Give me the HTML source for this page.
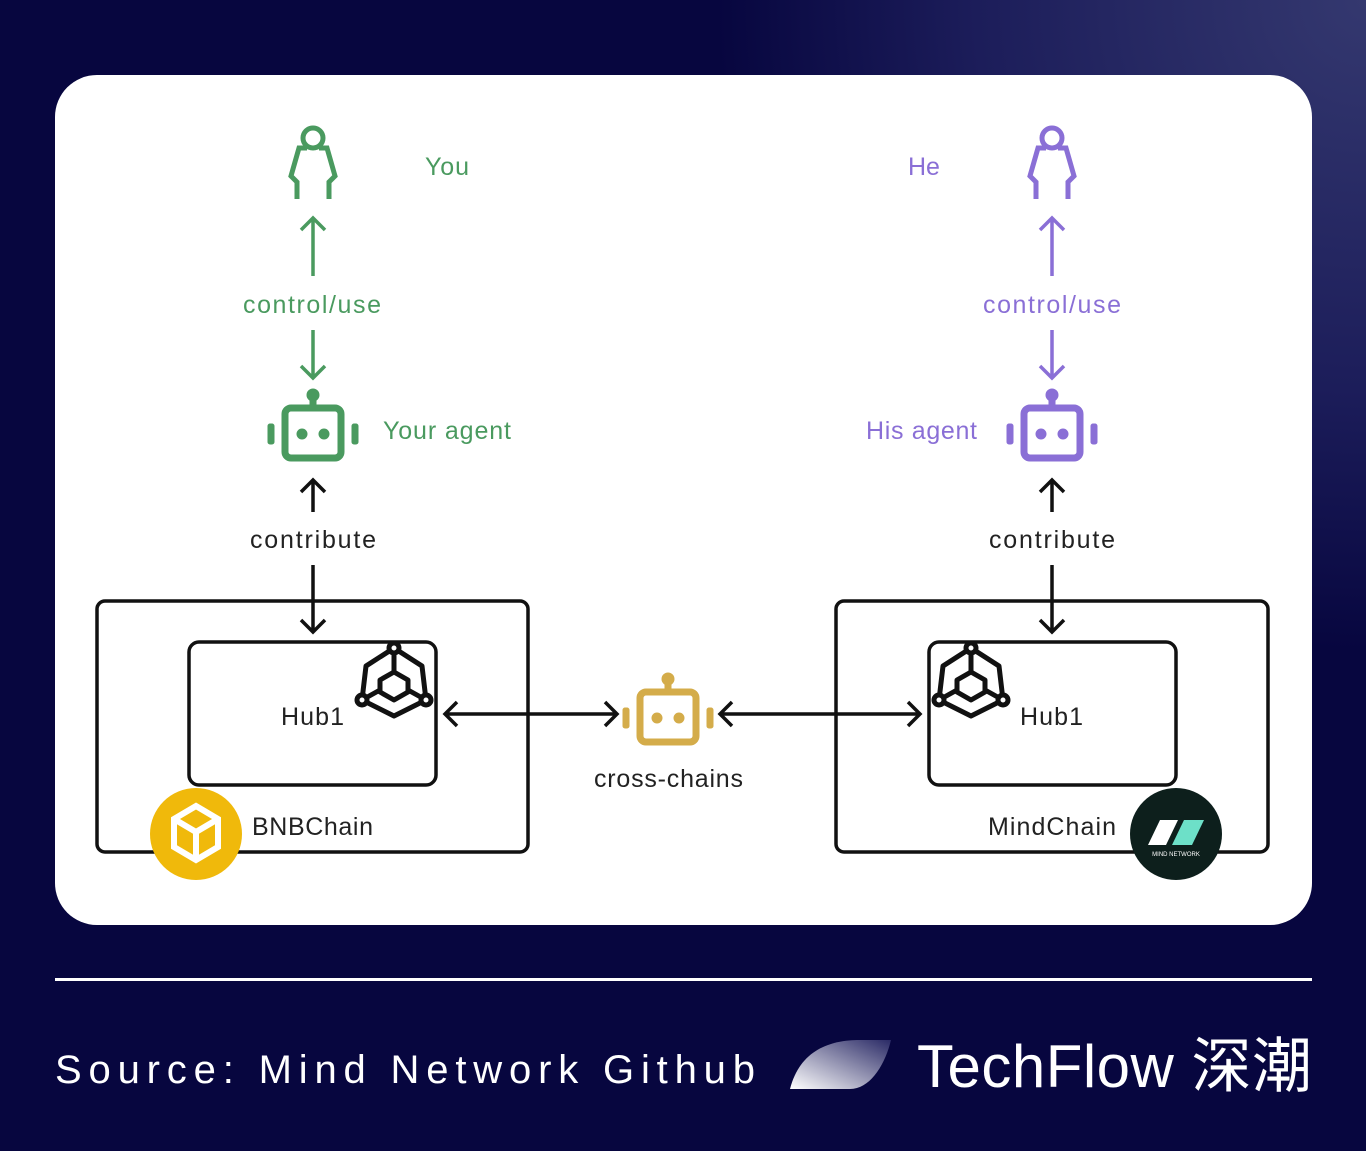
<!DOCTYPE html>
<html><head><meta charset="utf-8"><style>
html,body{margin:0;padding:0;width:1366px;height:1151px;overflow:hidden;background:#07063f}
svg{display:block}
text{font-family:"Liberation Sans","Noto Sans CJK SC",sans-serif}
</style></head><body>
<svg width="1366" height="1151" viewBox="0 0 1366 1151" xmlns="http://www.w3.org/2000/svg">
<defs>
<radialGradient id="bg" cx="1366" cy="0" r="650" gradientUnits="userSpaceOnUse">
<stop offset="0" stop-color="#34386f"/><stop offset="0.6" stop-color="#1c1d5a"/><stop offset="1" stop-color="#07063f"/>
</radialGradient>
<linearGradient id="leaf" x1="0" y1="1" x2="1" y2="0">
<stop offset="0" stop-color="#ffffff"/><stop offset="1" stop-color="#2a2a66"/>
</linearGradient>
<g id="person" fill="none" stroke-width="5" stroke-linejoin="miter">
<circle cx="0" cy="-26" r="10"/>
<path d="M-6,-16 L-14,-16 L-22,12 L-16,18 L-16,35 M6,-16 L14,-16 L22,12 L16,18 L16,35"/>
</g>
<g id="robot">
<circle cx="0" cy="-37" r="6"/>
<rect x="-3" y="-36" width="6" height="12"/>
<rect x="-28" y="-24" width="56" height="50" rx="6" fill="none" stroke-width="7"/>
<circle cx="-11" cy="2" r="5"/><circle cx="11" cy="2" r="5"/>
<rect x="-45" y="-8" width="6" height="20" rx="2"/><rect x="39" y="-8" width="6" height="20" rx="2"/>
</g>
<g id="hub" fill="none" stroke="#111" stroke-width="5" stroke-linejoin="round">
<path d="M0,-32 L-28,-14 L-32,20 M0,-32 L28,-14 L32,20 M-32,20 L0,36 L32,20"/>
<path d="M0,-32 L0,-8 M-32,20 L-14,10 M32,20 L14,10"/>
<path d="M0,-8 L14,0 L14,12 L0,20 L-14,12 L-14,0 Z"/>
<circle cx="0" cy="-32" r="5" fill="#fff"/><circle cx="-32" cy="20" r="5" fill="#fff"/><circle cx="32" cy="20" r="5" fill="#fff"/>
</g>
</defs>
<rect width="1366" height="1151" fill="#07063f"/>
<rect width="1366" height="1151" fill="url(#bg)"/>
<rect x="55" y="75" width="1257" height="850" rx="42" fill="#fff"/>

<g stroke="#4a9a5f" fill="#4a9a5f">
<use href="#person" x="313" y="164"/>
<path d="M313,276 V218 M301,230 L313,218 L325,230" fill="none" stroke-width="3.5"/>
<path d="M313,330 V378 M301,366 L313,378 L325,366" fill="none" stroke-width="3.5"/>
<use href="#robot" x="313" y="432"/>
</g>
<text x="425" y="175" font-size="25" fill="#4a9a5f" textLength="44">You</text>
<text x="243" y="313" font-size="25" fill="#4a9a5f" textLength="138">control/use</text>
<text x="383" y="439" font-size="25" fill="#4a9a5f" textLength="128">Your agent</text>

<g stroke="#8a6fd6" fill="#8a6fd6">
<use href="#person" x="1052" y="164"/>
<path d="M1052,276 V218 M1040,230 L1052,218 L1064,230" fill="none" stroke-width="3.5"/>
<path d="M1052,330 V378 M1040,366 L1052,378 L1064,366" fill="none" stroke-width="3.5"/>
<use href="#robot" x="1052" y="432"/>
</g>
<text x="908" y="175" font-size="25" fill="#8a6fd6">He</text>
<text x="983" y="313" font-size="25" fill="#8a6fd6" textLength="138">control/use</text>
<text x="866" y="439" font-size="25" fill="#8a6fd6" textLength="111">His agent</text>

<g stroke="#111" fill="none" stroke-width="3.5">
<path d="M313,512 V480 M301,492 L313,480 L325,492"/>
<path d="M313,565 V632 M301,620 L313,632 L325,620"/>
<path d="M1052,512 V480 M1040,492 L1052,480 L1064,492"/>
<path d="M1052,565 V632 M1040,620 L1052,632 L1064,620"/>
<rect x="97" y="601" width="431" height="251" rx="8"/>
<rect x="189" y="642" width="247" height="143" rx="10"/>
<rect x="836" y="601" width="432" height="251" rx="8"/>
<rect x="929" y="642" width="247" height="143" rx="10"/>
<path d="M445,714 H617 M457,702 L445,714 L457,726 M605,702 L617,714 L605,726"/>
<path d="M720,714 H920 M732,702 L720,714 L732,726 M908,702 L920,714 L908,726"/>
</g>
<g font-size="25" fill="#222">
<text x="250" y="548" textLength="126">contribute</text>
<text x="989" y="548" textLength="126">contribute</text>
<text x="281" y="725" textLength="63">Hub1</text>
<text x="1020" y="725" textLength="63">Hub1</text>
<text x="252" y="835" textLength="121">BNBChain</text>
<text x="988" y="835" textLength="128">MindChain</text>
<text x="594" y="787" textLength="149">cross-chains</text>
</g>
<use href="#hub" x="394" y="680"/>
<use href="#hub" x="971" y="680"/>
<g stroke="#d4ac4a" fill="#d4ac4a"><use href="#robot" x="668" y="716"/></g>

<circle cx="196" cy="834" r="46" fill="#f0b90b"/>
<g fill="none" stroke="#fff" stroke-width="6" stroke-linejoin="miter">
<path d="M196,806 L218,819 L218,847 L196,860 L174,847 L174,819 Z"/>
<path d="M174,819 L196,832 L218,819 M196,832 V858"/>
</g>
<circle cx="1176" cy="834" r="46" fill="#0d1f1c"/>
<path d="M1148,845 L1160,820 L1178,820 L1166,845 Z" fill="#fff"/>
<path d="M1172,845 L1184,820 L1204,820 L1192,845 Z" fill="#6de0c8"/>
<text x="1176" y="856" font-size="6" fill="#fff" text-anchor="middle">MIND NETWORK</text>

<rect x="55" y="978" width="1257" height="3" fill="#fff"/>
<text x="55" y="1083" font-size="40" fill="#fff" textLength="700">Source: Mind Network Github</text>
<path d="M790,1089 C800,1050 830,1040 860,1040 L891,1040 C885,1065 870,1089 850,1089 Z" fill="url(#leaf)"/>
<text x="917" y="1087" font-size="60" fill="#fff" textLength="395">TechFlow 深潮</text>
</svg>
</body></html>
